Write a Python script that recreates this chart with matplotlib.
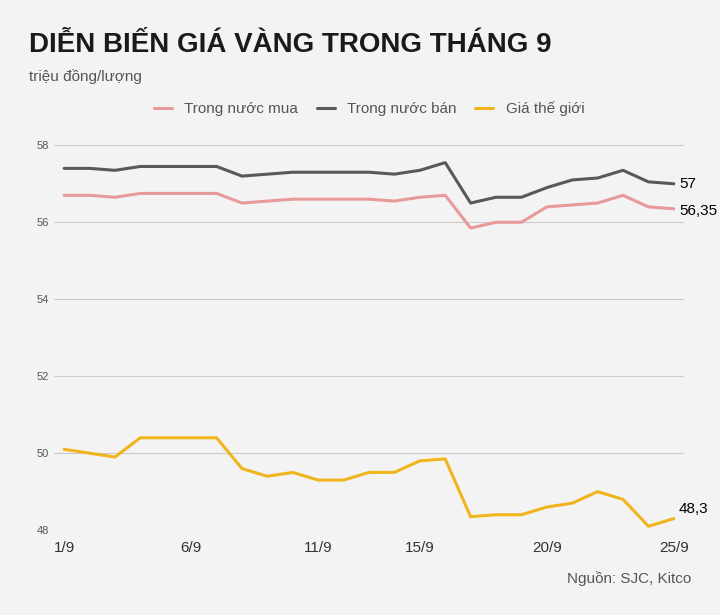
import matplotlib
matplotlib.use("Agg")
import matplotlib.pyplot as plt
plt.rcParams["font.family"] = "Liberation Sans"

days = list(range(1, 26))
tick_days = [1, 6, 11, 15, 20, 25]
tick_labels = ["1/9", "6/9", "11/9", "15/9", "20/9", "25/9"]
buy = [56.7, 56.7, 56.65, 56.75, 56.75, 56.75, 56.75, 56.5, 56.55, 56.6, 56.6, 56.6, 56.6,
       56.55, 56.65, 56.7, 55.85, 56.0, 56.0, 56.4, 56.45, 56.5, 56.7, 56.4, 56.35]
sell = [57.4, 57.4, 57.35, 57.45, 57.45, 57.45, 57.45, 57.2, 57.25, 57.3, 57.3, 57.3, 57.3,
        57.25, 57.35, 57.55, 56.5, 56.65, 56.65, 56.9, 57.1, 57.15, 57.35, 57.05, 57.0]
world = [50.1, 50.0, 49.9, 50.4, 50.4, 50.4, 50.4, 49.6, 49.4, 49.5, 49.3, 49.3, 49.5,
         49.5, 49.8, 49.85, 48.35, 48.4, 48.4, 48.6, 48.7, 49.0, 48.8, 48.1, 48.3]
yticks = [48, 50, 52, 54, 56, 58]

bg = "#f3f3f3"
fig = plt.figure(figsize=(7.2, 6.15), dpi=100, facecolor=bg)
ax = fig.add_axes([0.075, 0.138, 0.875, 0.632], facecolor=bg)
kw = dict(lw=2.2, solid_joinstyle="round", solid_capstyle="round")
ax.plot(days, buy, color="#e8999a", label="Trong nước mua", **kw)
ax.plot(days, sell, color="#595959", label="Trong nước bán", **kw)
ax.plot(days, world, color="#f0b41c", label="Giá thế giới", **kw)
ax.set_xlim(0.6, 25.4)
ax.set_ylim(48, 58.1)
ax.set_yticks(yticks)
ax.set_xticks(tick_days, tick_labels)
ax.grid(axis="y", color="#cccccc", lw=0.8)
ax.set_axisbelow(True)
for s in ["top", "right", "left", "bottom"]:
    ax.spines[s].set_visible(False)
ax.tick_params(axis="y", length=0, labelsize=8, labelcolor="#555555")
ax.tick_params(axis="x", length=0, labelsize=11, labelcolor="#333333", pad=8)
ax.text(25.2, sell[-1], "57", fontsize=11, va="center")
ax.text(25.2, buy[-1] - 0.05, "56,35", fontsize=11, va="center")
ax.text(25.2, world[-1] + 0.25, "48,3", fontsize=11, va="center")
ax.legend(loc="lower center", bbox_to_anchor=(0.5, 1.03), ncol=3, frameon=False,
          fontsize=11, labelcolor="#555555", handlelength=1.2, columnspacing=1.2)
fig.text(0.04, 0.915, "DIỄN BIẾN GIÁ VÀNG TRONG THÁNG 9", fontsize=20, fontweight="bold", color="#1a1a1a")
fig.text(0.04, 0.868, "triệu đồng/lượng", fontsize=11, color="#555555")
fig.text(0.96, 0.052, "Nguồn: SJC, Kitco", fontsize=11, color="#555555", ha="right")
fig.savefig("out.png", dpi=100, facecolor=bg)
